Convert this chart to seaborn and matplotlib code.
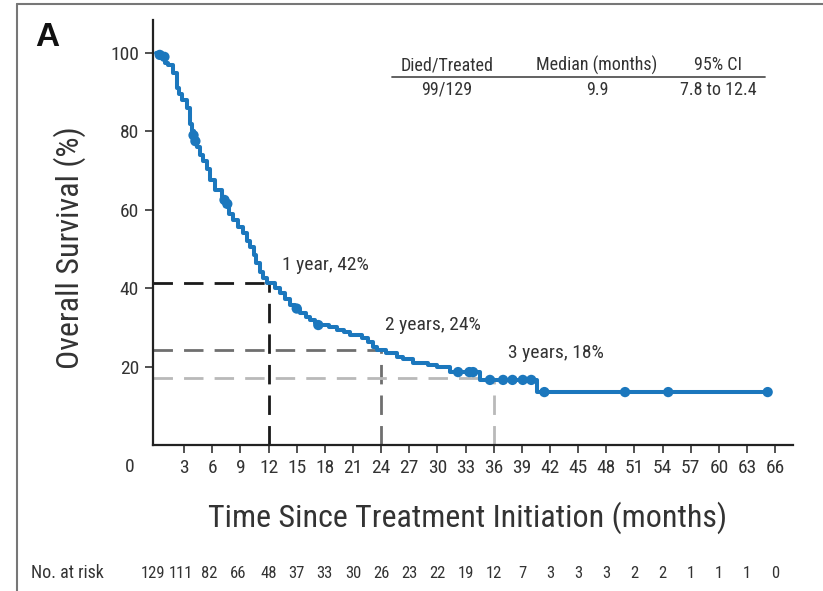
import numpy as np
import pandas as pd
import matplotlib
matplotlib.use("Agg")
import matplotlib.pyplot as plt
from matplotlib.lines import Line2D
import seaborn as sns

# ---- data ----
step_time = [0, 0.6, 1.0, 1.3, 1.8, 2.2, 2.5, 2.8, 3.3, 3.6, 3.8, 4.0, 4.4, 4.7, 5.0,
             5.4, 5.8, 6.3, 7.0, 7.4, 7.8, 8.2, 8.7, 9.3, 9.7, 10.0, 10.4, 10.7, 11.1,
             11.4, 11.8, 12.7, 13.2, 13.7, 14.3, 14.8, 15.4, 16.0, 16.4, 17.0, 17.5,
             18.4, 19.3, 20.0, 20.7, 22.0, 22.6, 23.1, 23.6, 24.5, 25.7, 26.3, 27.4,
             29.0, 30.0, 31.3, 34.5, 40.6, 65.2]
step_surv = [100, 99, 97.5, 96.8, 95, 91, 89.5, 88, 86, 82, 80, 78, 76, 74, 72.5,
             70.5, 67.5, 65, 63, 61, 59, 57.3, 55.5, 54, 52, 50.4, 48.5, 46.4, 44.2,
             42.5, 41.3, 40.0, 38.7, 37.2, 35.7, 34.8, 33.6, 32.6, 31.8, 31.0, 30.6,
             30.0, 29.3, 28.7, 28.0, 27.3, 26.2, 25.0, 24.2, 23.4, 22.4, 22.0, 20.9,
             20.3, 19.9, 18.6, 16.6, 13.5, 13.5]

censor_time = [0.4, 0.9, 4.0, 4.2, 7.3, 7.6, 15.0, 17.3, 32.2, 33.4, 33.8, 35.6,
               37.0, 38.0, 39.1, 40.0, 41.4, 50.0, 54.6, 65.2]
censor_surv = [99.5, 99.0, 79, 77.5, 62.5, 61.5, 34.8, 30.6, 18.6, 18.6, 18.6, 16.6,
               16.6, 16.6, 16.6, 16.6, 13.5, 13.5, 13.5, 13.5]

landmark_months = [12, 24, 36]
landmark_surv = [41.3, 24.2, 17.0]
landmark_labels = ["1 year, 42%", "2 years, 24%", "3 years, 18%"]

risk_times = list(range(0, 67, 3))
risk_counts = [129, 111, 82, 66, 48, 37, 33, 30, 26, 23, 22, 19, 12, 7, 3, 3, 3, 2, 2, 1, 1, 1, 0]

table_headers = ["Died/Treated", "Median (months)", "95% CI"]
table_values = ["99/129", "9.9", "7.8 to 12.4"]

xticks = list(range(3, 67, 3))
yticks = [20, 40, 60, 80, 100]

# ---- styling ----
sns.set_theme(style="white")
plt.rcParams['font.family'] = ['Liberation Sans Narrow', 'Roboto Condensed', 'DejaVu Sans']
BLUE = "#1b77bd"
TXT = "#333333"

fig = plt.figure(figsize=(8.23, 5.91), dpi=100)
ax = fig.add_axes([153 / 823, 146 / 591, (793 - 153) / 823, (445 - 20) / 591])

df = pd.DataFrame({"t": step_time, "s": step_surv})
sns.lineplot(data=df, x="t", y="s", ax=ax, color=BLUE, lw=2.9,
             drawstyle="steps-post", estimator=None, sort=False, zorder=3)
cdf = pd.DataFrame({"t": censor_time, "s": censor_surv})
sns.scatterplot(data=cdf, x="t", y="s", ax=ax, color=BLUE, s=55,
                edgecolor="none", zorder=4)

dash_colors = ["#1a1a1a", "#6f6f6f", "#b9b9b9"]
xlim = (-0.32, 67.9)
for m, s, c in zip(landmark_months, landmark_surv, dash_colors):
    ax.plot([xlim[0], m], [s, s], color=c, lw=2.0, ls=(0, (7, 4)), zorder=2)
    ax.plot([m, m], [0, s], color=c, lw=2.0, ls=(0, (7, 4)), zorder=2)

label_pos = [(325, 265), (433, 325), (556, 353)]
for (px, py), lab in zip(label_pos, landmark_labels):
    fig.text(px / 823, 1 - py / 591, lab, ha="center", va="center",
             fontsize=14, color=TXT)

ax.set_xlim(*xlim)
ax.set_ylim(0, 108.4)
ax.set_xticks(xticks)
ax.set_xticklabels([str(v) for v in xticks], fontsize=14, color=TXT)
ax.set_yticks(yticks)
ax.set_yticklabels([str(v) for v in yticks], fontsize=14, color=TXT)
ax.tick_params(axis="both", direction="out", length=6, width=1.1, color="#222222",
               bottom=True, left=True, pad=4)
for side in ["top", "right"]:
    ax.spines[side].set_visible(False)
for side in ["left", "bottom"]:
    ax.spines[side].set_color("#222222")
    ax.spines[side].set_linewidth(1.6)
ax.set_xlabel("")
ax.set_ylabel("")

fig.text(130 / 823, 1 - 467 / 591, "0", ha="center", va="center", fontsize=14, color=TXT)
fig.text(70 / 823, 1 - 248 / 591, "Overall Survival (%)", rotation=90,
         ha="center", va="center", fontsize=23, color=TXT)
fig.text(468 / 823, 1 - 518 / 591, "Time Since Treatment Initiation (months)",
         ha="center", va="center", fontsize=23, color=TXT)
fig.text(47 / 823, 1 - 38 / 591, "A", ha="center", va="center", fontsize=24,
         fontweight="bold", color="#111111", family=["Liberation Sans", "DejaVu Sans"])

# number at risk
fig.text(67 / 823, 1 - 573 / 591, "No. at risk", ha="center", va="center",
         fontsize=13, color=TXT)
for t, n in zip(risk_times, risk_counts):
    ax.annotate(str(n), xy=(t, 0), xycoords=("data", "axes fraction"),
                xytext=(-2 if t < 12 else 0, -(573 - 445) * 0.72),
                textcoords="offset points",
                ha="center", va="center", fontsize=12, color=TXT, annotation_clip=False)

# summary table
col_x = [447, 597, 718]
for x, h, v in zip(col_x, table_headers, table_values):
    fig.text(x / 823, 1 - 65 / 591, h, ha="center", va="center", fontsize=13, color=TXT)
    fig.text(x / 823, 1 - 90 / 591, v, ha="center", va="center", fontsize=13, color=TXT)
fig.add_artist(Line2D([392 / 823, 765 / 823], [1 - 77 / 591, 1 - 77 / 591],
                      transform=fig.transFigure, color="#555555", lw=1.3))

# panel frame (top and left)
fig.add_artist(Line2D([17 / 823, 1.0], [1 - 4 / 591, 1 - 4 / 591],
                      transform=fig.transFigure, color="#777777", lw=1.5))
fig.add_artist(Line2D([17 / 823, 17 / 823], [0, 1 - 4 / 591],
                      transform=fig.transFigure, color="#777777", lw=1.5))

fig.savefig("out.png", dpi=100)
